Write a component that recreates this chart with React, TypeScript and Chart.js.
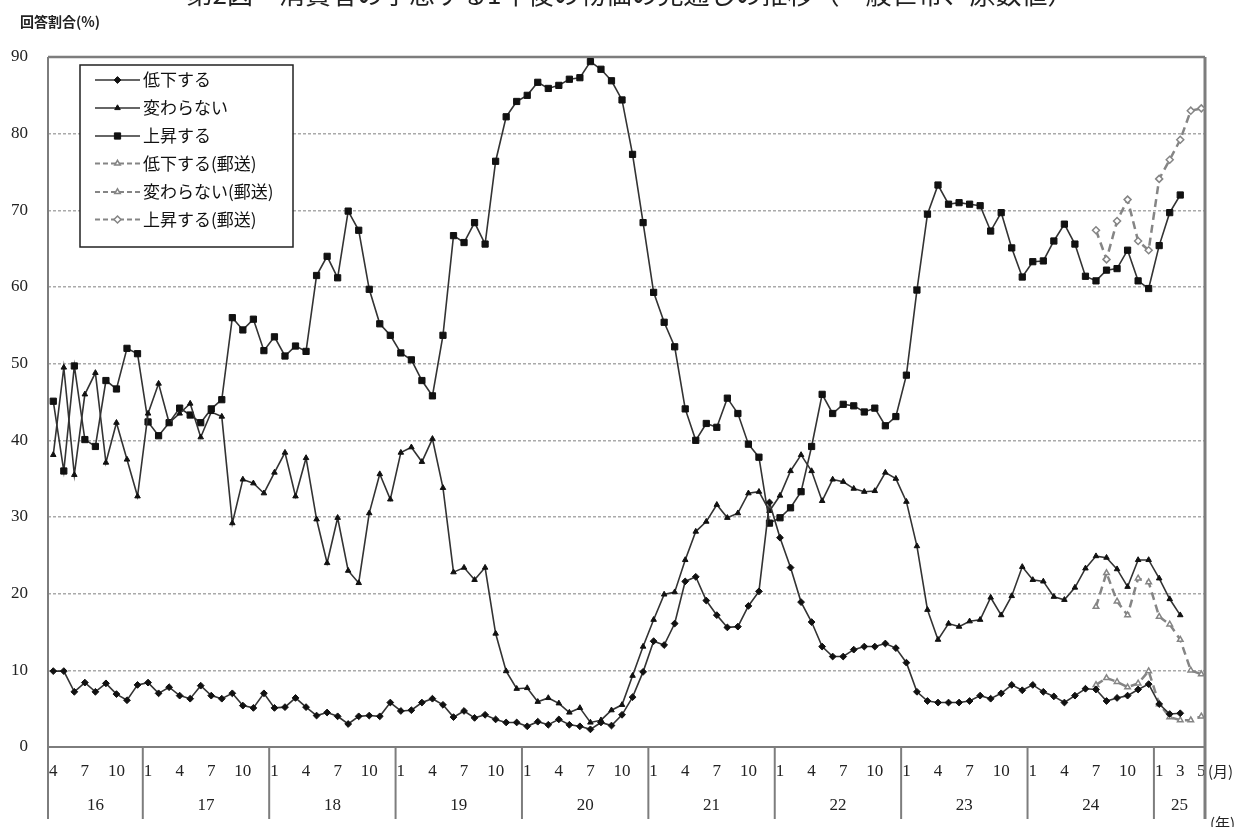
import React, { useEffect, useRef } from 'react';
import { Chart, registerables } from 'chart.js';

Chart.register(...registerables);

// ---------- text ----------
const TITLE = '第2図　消費者の予想する1年後の物価の見通しの推移（一般世帯、原数値）';
const Y_TITLE = '回答割合(%)';
const MONTH_UNIT = '(月)';
const YEAR_UNIT = '(年)';

// ---------- categories (monthly, 2016-04 .. 2025-05) ----------
const FIRST_YEAR = 2016;
const FIRST_MONTH = 4;
const POINT_COUNT = 110;
const CATEGORIES: { year: number; month: number }[] = [];
for (let k = 0; k < POINT_COUNT; k++) {
  const t = FIRST_MONTH - 1 + k;
  CATEGORIES.push({ year: FIRST_YEAR + Math.floor(t / 12), month: (t % 12) + 1 });
}
const YEAR_LABELS = ['16', '17', '18', '19', '20', '21', '22', '23', '24', '25'];
const MONTH_TICKS = [1, 4, 7, 10];
const LAST_YEAR_MONTH_TICKS = [1, 3, 5];
const Y_TICK_STEP = 10;
const Y_MIN = 0;
const Y_MAX = 90;

// ---------- series (from 2016-04) ----------
const DECLINE = [
  9.9, 9.9, 7.2, 8.4, 7.2, 8.3, 6.9, 6.1, 8.1,
  8.4, 7.0, 7.8, 6.7, 6.3, 8.0, 6.7, 6.3, 7.0, 5.4, 5.1, 7.0,
  5.1, 5.2, 6.4, 5.2, 4.1, 4.5, 4.0, 3.0, 4.0, 4.1, 4.0, 5.8,
  4.7, 4.8, 5.8, 6.3, 5.5, 3.9, 4.7, 3.8, 4.2, 3.6, 3.2, 3.2,
  2.7, 3.3, 2.9, 3.6, 2.9, 2.7, 2.3, 3.2, 2.8, 4.2, 6.5, 9.8,
  13.8, 13.3, 16.1, 21.6, 22.2, 19.1, 17.2, 15.6, 15.7, 18.4, 20.3, 31.9,
  27.3, 23.4, 18.9, 16.3, 13.1, 11.8, 11.8, 12.7, 13.1, 13.1, 13.5, 12.9,
  11.0, 7.2, 6.0, 5.8, 5.8, 5.8, 6.0, 6.7, 6.3, 7.0, 8.1, 7.4,
  8.1, 7.2, 6.6, 5.8, 6.7, 7.6, 7.5, 6.0, 6.4, 6.7, 7.5, 8.2,
  5.6, 4.3, 4.4,
];
const NO_CHANGE = [
  38.1, 49.5, 35.5, 46.0, 48.8, 37.1, 42.3, 37.5, 32.7,
  43.5, 47.4, 42.3, 43.5, 44.8, 40.4, 43.7, 43.1, 29.2, 34.9, 34.4, 33.1,
  35.8, 38.4, 32.7, 37.7, 29.7, 24.0, 29.9, 23.0, 21.4, 30.5, 35.6, 32.3,
  38.4, 39.1, 37.2, 40.2, 33.8, 22.8, 23.4, 21.8, 23.4, 14.8, 9.9, 7.6,
  7.7, 5.9, 6.4, 5.7, 4.5, 5.1, 3.2, 3.5, 4.8, 5.5, 9.3, 13.1,
  16.6, 19.9, 20.2, 24.4, 28.1, 29.4, 31.6, 29.9, 30.5, 33.1, 33.3, 30.8,
  32.8, 36.0, 38.1, 36.0, 32.1, 34.9, 34.6, 33.7, 33.3, 33.4, 35.8, 35.0,
  32.0, 26.2, 17.9, 14.0, 16.1, 15.7, 16.4, 16.6, 19.5, 17.2, 19.7, 23.5,
  21.8, 21.6, 19.6, 19.2, 20.8, 23.3, 24.9, 24.7, 23.2, 20.9, 24.4, 24.4,
  22.0, 19.3, 17.2,
];
const RISE = [
  45.1, 36.0, 49.7, 40.1, 39.2, 47.8, 46.7, 52.0, 51.3,
  42.4, 40.6, 42.3, 44.2, 43.3, 42.3, 44.1, 45.3, 56.0, 54.4, 55.8, 51.7,
  53.5, 51.0, 52.3, 51.6, 61.5, 64.0, 61.2, 69.9, 67.4, 59.7, 55.2, 53.7,
  51.4, 50.5, 47.8, 45.8, 53.7, 66.7, 65.8, 68.4, 65.6, 76.4, 82.2, 84.2,
  85.0, 86.7, 85.9, 86.3, 87.1, 87.3, 89.4, 88.4, 86.9, 84.4, 77.3, 68.4,
  59.3, 55.4, 52.2, 44.1, 40.0, 42.2, 41.7, 45.5, 43.5, 39.5, 37.8, 29.2,
  29.9, 31.2, 33.3, 39.2, 46.0, 43.5, 44.7, 44.5, 43.7, 44.2, 41.9, 43.1,
  48.5, 59.6, 69.5, 73.3, 70.8, 71.0, 70.8, 70.6, 67.3, 69.7, 65.1, 61.3,
  63.3, 63.4, 66.0, 68.2, 65.6, 61.4, 60.8, 62.2, 62.4, 64.8, 60.8, 59.8,
  65.4, 69.7, 72.0,
];

// mail survey series (from 2024-07)
const MAIL_START = { year: 2024, month: 7 };
const DECLINE_MAIL = [8.1, 9.0, 8.5, 7.8, 8.3, 9.9, 5.6, 3.9, 3.5, 3.5, 4.0];
const NO_CHANGE_MAIL = [18.3, 22.7, 19.0, 17.2, 22.0, 21.5, 17.0, 16.0, 14.0, 10.0, 9.5];
const RISE_MAIL = [67.4, 63.6, 68.6, 71.4, 66.0, 64.8, 74.1, 76.6, 79.2, 83.0, 83.3];

// ---------- styling ----------
const SERIF = "'Liberation Serif', 'DejaVu Serif', serif";
const JP = "'Noto Sans CJK JP', 'Noto Sans', sans-serif";
const SOLID_LINE = '#333333';
const MARK = '#111111';
const MAIL_LINE = '#858585';
const FRAME = '#7d7d7d';
const GRID = '#aaaaaa';

const LEGEND_BOX = { x: 80, y: 65, w: 213, h: 182 };
const LEGEND_ROWS = [80, 108, 136, 163.5, 192, 219.5];
const LEGEND_LINE = { x0: 95, x1: 140, text: 143 };

const MAIL_START_INDEX = CATEGORIES.findIndex(
  (c) => c.year === MAIL_START.year && c.month === MAIL_START.month,
);
const TICK_INDICES = CATEGORIES.map((c, i) => ({ c, i }))
  .filter(({ c }) =>
    c.year === FIRST_YEAR + YEAR_LABELS.length - 1
      ? LAST_YEAR_MONTH_TICKS.includes(c.month)
      : MONTH_TICKS.includes(c.month),
  )
  .map(({ i }) => i);

const toPoints = (values: number[], offset: number) =>
  values.map((v, k) => ({ x: offset + k, y: v }));

function markerPath(ctx: CanvasRenderingContext2D, style: string, x: number, y: number, r: number) {
  ctx.beginPath();
  if (style === 'rect') {
    const s = r * Math.SQRT1_2;
    ctx.rect(x - s, y - s, 2 * s, 2 * s);
  } else if (style === 'rectRot') {
    ctx.moveTo(x, y - r);
    ctx.lineTo(x + r, y);
    ctx.lineTo(x, y + r);
    ctx.lineTo(x - r, y);
    ctx.closePath();
  } else if (style === 'triangle') {
    ctx.moveTo(x, y - r);
    ctx.lineTo(x + r * 0.866, y + r * 0.5);
    ctx.lineTo(x - r * 0.866, y + r * 0.5);
    ctx.closePath();
  } else {
    ctx.arc(x, y, r, 0, Math.PI * 2);
  }
}

const decorPlugin = {
  id: 'decor',
  beforeDatasetsDraw(chart: any) {
    const { ctx, chartArea: a, scales } = chart;
    const xs = scales.x;
    const line = (x0: number, y0: number, x1: number, y1: number, w: number) => {
      ctx.beginPath();
      ctx.lineWidth = w;
      ctx.moveTo(x0, y0);
      ctx.lineTo(x1, y1);
      ctx.stroke();
    };
    ctx.save();
    ctx.strokeStyle = FRAME;
    line(a.left, a.top, a.right, a.top, 2.5);
    line(a.left, a.bottom, a.right, a.bottom, 2);
    line(a.left, a.top, a.left, a.bottom + 72, 2);
    line(a.right, a.top, a.right, a.bottom + 72, 3);
    CATEGORIES.forEach((c, i) => {
      if (c.month === 1) {
        const px = xs.getPixelForValue(i - 0.5);
        line(px, a.bottom, px, a.bottom + 72, 2);
      }
    });
    ctx.restore();
  },
  afterDraw(chart: any) {
    const { ctx, chartArea: a, scales } = chart;
    const xs = scales.x;
    ctx.save();

    // year labels
    ctx.fillStyle = '#222';
    ctx.font = `17px ${SERIF}`;
    ctx.textAlign = 'center';
    ctx.textBaseline = 'middle';
    YEAR_LABELS.forEach((lab, k) => {
      const yr = FIRST_YEAR + k;
      const jan = CATEGORIES.findIndex((c) => c.year === yr && c.month === 1);
      const nextJan = CATEGORIES.findIndex((c) => c.year === yr + 1 && c.month === 1);
      const left = k === 0 || jan < 0 ? a.left : xs.getPixelForValue(jan - 0.5);
      const right = nextJan < 0 ? a.right : xs.getPixelForValue(nextJan - 0.5);
      ctx.fillText(lab, (left + right) / 2, 806);
    });

    // units
    ctx.font = `15px ${JP}`;
    ctx.textAlign = 'left';
    ctx.fillText(MONTH_UNIT, a.right + 3, 771);
    ctx.fillText(YEAR_UNIT, a.right + 5, 823);

    // axis title
    ctx.font = `bold 14px ${JP}`;
    ctx.fillText(Y_TITLE, 20, 22);

    // main title (mostly cut off at the top)
    ctx.font = `26px ${JP}`;
    ctx.textAlign = 'center';
    ctx.textBaseline = 'alphabetic';
    ctx.fillText(TITLE, 630, 4);

    // legend
    const b = LEGEND_BOX;
    ctx.fillStyle = '#ffffff';
    ctx.fillRect(b.x, b.y, b.w, b.h);
    ctx.strokeStyle = '#222';
    ctx.lineWidth = 1.5;
    ctx.strokeRect(b.x, b.y, b.w, b.h);
    chart.data.datasets.forEach((ds: any, k: number) => {
      const ry = LEGEND_ROWS[k];
      ctx.save();
      ctx.strokeStyle = ds.borderColor;
      ctx.lineWidth = ds.borderDash && ds.borderDash.length ? 2 : ds.borderWidth;
      ctx.setLineDash(ds.borderDash && ds.borderDash.length ? [5, 3] : []);
      ctx.beginPath();
      ctx.moveTo(LEGEND_LINE.x0, ry);
      ctx.lineTo(LEGEND_LINE.x1, ry);
      ctx.stroke();
      ctx.setLineDash([]);
      markerPath(ctx, ds.pointStyle, (LEGEND_LINE.x0 + LEGEND_LINE.x1) / 2, ry, ds.pointRadius);
      ctx.fillStyle = ds.pointBackgroundColor;
      ctx.fill();
      ctx.lineWidth = ds.pointBorderWidth;
      ctx.strokeStyle = ds.pointBorderColor;
      ctx.stroke();
      ctx.restore();
      ctx.fillStyle = '#111';
      ctx.font = `17px ${JP}`;
      ctx.textAlign = 'left';
      ctx.textBaseline = 'middle';
      ctx.fillText(ds.label, LEGEND_LINE.text, ry);
    });

    ctx.restore();
  },
};

export default function App() {
  const canvasRef = useRef<HTMLCanvasElement | null>(null);

  useEffect(() => {
    if (!canvasRef.current) return;
    const solid = (label: string, values: number[], style: string, r: number) => ({
      label,
      data: toPoints(values, 0),
      borderColor: SOLID_LINE,
      borderWidth: 1.6,
      borderDash: [] as number[],
      pointStyle: style,
      pointRadius: r,
      pointBackgroundColor: MARK,
      pointBorderColor: MARK,
      pointBorderWidth: 1,
      tension: 0,
    });
    const mail = (label: string, values: number[], style: string, r: number) => ({
      label,
      data: toPoints(values, MAIL_START_INDEX),
      borderColor: MAIL_LINE,
      borderWidth: 2.5,
      borderDash: [8, 5],
      pointStyle: style,
      pointRadius: r,
      pointBackgroundColor: '#ffffff',
      pointBorderColor: MAIL_LINE,
      pointBorderWidth: 1.5,
      tension: 0,
    });

    const chart = new Chart(canvasRef.current, {
      type: 'line',
      data: {
        datasets: [
          solid('低下する', DECLINE, 'rectRot', 3.4),
          solid('変わらない', NO_CHANGE, 'triangle', 3.2),
          solid('上昇する', RISE, 'rect', 4.4),
          mail('低下する(郵送)', DECLINE_MAIL, 'triangle', 3.2),
          mail('変わらない(郵送)', NO_CHANGE_MAIL, 'triangle', 3.2),
          mail('上昇する(郵送)', RISE_MAIL, 'rectRot', 3.5),
        ] as any,
      },
      options: {
        animation: false,
        responsive: false,
        devicePixelRatio: 1,
        layout: { padding: { top: 57, right: 32, bottom: 0, left: 0 } },
        plugins: {
          legend: { display: false },
          title: { display: false },
          tooltip: { enabled: false },
        },
        scales: {
          x: {
            type: 'linear',
            min: -0.5,
            max: 109.35,
            afterBuildTicks: (s: any) => {
              s.ticks = TICK_INDICES.map((v) => ({ value: v }));
            },
            afterFit: (s: any) => {
              s.height = 80;
            },
            ticks: {
              autoSkip: false,
              maxRotation: 0,
              minRotation: 0,
              padding: 14,
              color: '#222',
              font: { family: SERIF, size: 17 },
              callback: (v: any) => String(CATEGORIES[Math.round(Number(v))]?.month ?? ''),
            },
            grid: { display: false, drawTicks: false },
            border: { display: false },
          },
          y: {
            min: Y_MIN,
            max: Y_MAX,
            afterFit: (s: any) => {
              s.width = 48;
            },
            ticks: {
              stepSize: Y_TICK_STEP,
              padding: 20,
              color: '#222',
              font: { family: SERIF, size: 17 },
            },
            grid: {
              drawTicks: false,
              lineWidth: 1.5,
              color: (c: any) =>
                c.tick && (c.tick.value === Y_MIN || c.tick.value === Y_MAX) ? 'rgba(0,0,0,0)' : GRID,
            },
            border: { display: false, dash: [3, 2] },
          },
        },
      } as any,
      plugins: [decorPlugin],
    });
    return () => chart.destroy();
  }, []);

  return (
    <div style={{ position: 'absolute', left: 0, top: 0, width: 1237, height: 827, background: '#fff', overflow: 'hidden' }}>
      <canvas ref={canvasRef} width={1237} height={827} style={{ display: 'block' }} />
    </div>
  );
}
